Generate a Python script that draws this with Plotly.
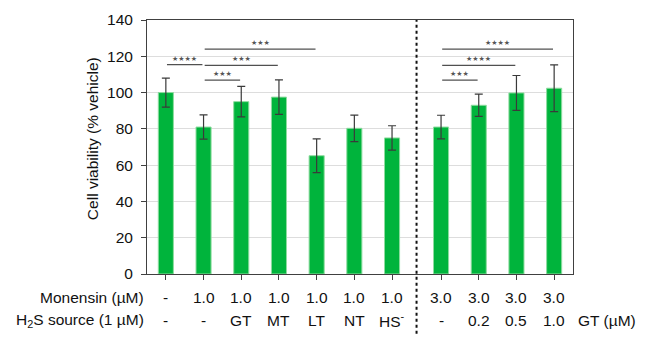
import plotly.graph_objects as go

# ---- data ----
monensin = ["-", "1.0", "1.0", "1.0", "1.0", "1.0", "1.0", "3.0", "3.0", "3.0", "3.0"]
h2s_source = ["-", "-", "GT", "MT", "LT", "NT", "HS<sup>-</sup>", "-", "0.2", "0.5", "1.0"]
viability = [100.0, 81.0, 95.0, 97.5, 65.2, 80.3, 75.0, 81.0, 93.0, 99.8, 102.4]
sd = [8.0, 6.7, 8.4, 9.5, 9.3, 7.3, 6.7, 6.5, 6.1, 9.6, 12.9]
# significance brackets: (bar i, bar j, height, label)
sig_i = [0, 1, 1, 1, 7, 7, 7]
sig_j = [1, 4, 3, 2, 8, 9, 10]
sig_y = [115.4, 123.9, 115.0, 106.9, 106.9, 115.0, 123.9]
sig_label = ["****", "***", "***", "***", "***", "****", "****"]
y_ticks = [0, 20, 40, 60, 80, 100, 120, 140]

# bar positions (two groups separated by a gap)
group_gap = 0.3
xpos = [i if i < 7 else i + group_gap for i in range(len(viability))]

fig = go.Figure()
fig.add_trace(go.Bar(
    x=xpos, y=viability, width=0.4,
    marker=dict(color="#00B43C", line=dict(color="#8EDC9F", width=1)),
    error_y=dict(type="data", array=sd, visible=True, color="#3a3a3a",
                 thickness=1.2, width=4),
    showlegend=False,
))

font = "Liberation Sans, Arial, sans-serif"
fs = 15.5
shapes = []
annotations = []

# significance lines and stars
for a, b, yv, lab in zip(sig_i, sig_j, sig_y, sig_label):
    x0 = xpos[a] + 0.03
    x1 = xpos[b] - 0.03
    shapes.append(dict(type="line", xref="x", yref="y", x0=x0, x1=x1, y0=yv, y1=yv,
                       line=dict(color="#505050", width=1.2)))
    annotations.append(dict(xref="x", yref="y", x=(x0 + x1) / 2, y=yv, yanchor="bottom",
                            yshift=0, text="★" * len(lab), showarrow=False,
                            font=dict(size=7, color="#555555", family="DejaVu Sans")))

# dotted separator
sep_x = (xpos[6] + xpos[7]) / 2
shapes.append(dict(type="line", xref="x", yref="paper", x0=sep_x, x1=sep_x, y0=-0.235, y1=1,
                   line=dict(color="#111111", width=2, dash="dot")))

# bottom label rows
row_font = dict(size=fs, color="#111111", family=font)
for xv, m, h in zip(xpos, monensin, h2s_source):
    annotations.append(dict(xref="x", yref="paper", x=xv, y=0, yanchor="middle",
                            yshift=-23, text=m, showarrow=False, font=row_font))
    annotations.append(dict(xref="x", yref="paper", x=xv, y=0, yanchor="middle",
                            yshift=-46, text=h, showarrow=False, font=row_font))
annotations.append(dict(xref="paper", yref="paper", x=0, y=0, xanchor="right", yanchor="middle",
                        xshift=-1, yshift=-23, text="Monensin (µM)", showarrow=False, font=row_font))
annotations.append(dict(xref="paper", yref="paper", x=0, y=0, xanchor="right", yanchor="middle",
                        xshift=-1, yshift=-46, text="H<sub>2</sub>S source (1 µM)", showarrow=False,
                        font=row_font))
annotations.append(dict(xref="paper", yref="paper", x=1, y=0, xanchor="left", yanchor="middle",
                        xshift=3, yshift=-46, text="GT (µM)", showarrow=False, font=row_font))

# y-axis title
annotations.append(dict(xref="paper", yref="paper", x=0, y=0.531, xanchor="center", yanchor="middle",
                        xshift=-55, textangle=-90, text="Cell viability (% vehicle)", showarrow=False,
                        font=dict(size=fs, color="#111111", family=font)))

fig.update_layout(
    width=667, height=341,
    margin=dict(l=147, r=94, t=20, b=67),
    paper_bgcolor="white", plot_bgcolor="white",
    shapes=shapes, annotations=annotations,
    font=dict(family=font, size=fs, color="#111111"),
    xaxis=dict(range=[-0.5, xpos[-1] + 0.5], tickvals=xpos, showticklabels=False,
               ticks="outside", ticklen=5, tickcolor="#404040",
               showline=True, linecolor="#404040", linewidth=1, mirror=True,
               showgrid=False, zeroline=False, fixedrange=True),
    yaxis=dict(range=[0, 140], tickvals=y_ticks, ticks="outside", ticklen=5, tickcolor="#404040",
               showline=True, linecolor="#404040", linewidth=1, mirror=True,
               showgrid=True, gridcolor="#DDDDDD", gridwidth=1, zeroline=False,
               ticklabelstandoff=5,
               tickfont=dict(size=fs, color="#111111", family=font), fixedrange=True),
)

fig.write_html("out.html")
